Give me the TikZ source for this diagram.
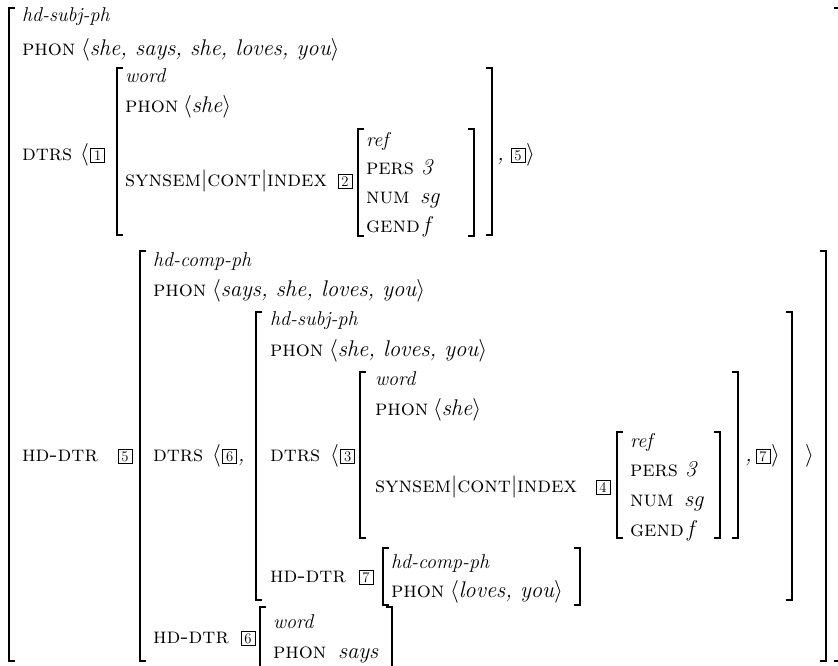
\RequirePackage{fix-cm}
\documentclass[tikz,border=0pt]{standalone}
\usepackage{fontspec}
\usetikzlibrary{calc}
\newcommand\avmattr[1]{\scalebox{0.975}{\fontsize{17}{20}\selectfont\scshape #1}}
\tikzset{
  every node/.style={inner sep=0pt, outer sep=0pt, anchor=base west},
  attr/.style={},
  val/.style={font=\fontsize{17}{20}\selectfont\itshape},
  typ/.style={font=\fontsize{15}{18}\selectfont\itshape},
  tagbox/.style={draw, line width=0.5pt, inner sep=0pt, minimum width=10.5pt, minimum height=10.5pt, font=\fontsize{11}{13}\selectfont},
  brk/.style={line width=1.6pt},
}
\newcommand\avmL[3]{\draw[brk] (#1+6,#2) -- (#1,#2) -- (#1,#3) -- (#1+6,#3);}
\newcommand\avmR[3]{\draw[brk] (#1-6,#2) -- (#1,#2) -- (#1,#3) -- (#1-6,#3);}
\begin{document}
\begin{tikzpicture}[x=0.75pt,y=-0.75pt]
\useasboundingbox (0,0) rectangle (838,665);
% outer matrix
\avmL{9}{8}{661}
\avmR{840}{8}{661}
\node[typ] (t1) at (22,21) {hd-subj-ph};
\node[attr] (a1) at (22,55) {\avmattr{phon}};
\node[val] (v1) at (81,55) {$\langle$she, says, she, loves, you$\rangle$};
\node[attr] (a2) at (22,160) {\avmattr{dtrs}};
\node[val] (l2) at (80,160) {$\langle$};
\node[tagbox] (g1) at ($(l2.base east)+(2,0)$) {1};
% word matrix (top)
\avmL{117}{68}{235}
\avmR{492}{68}{235}
\node[typ] (t2) at (125,82) {word};
\node[attr] (a3) at (125,112) {\avmattr{phon}};
\node[val] (v3) at (183,112) {$\langle$she$\rangle$};
\node[attr] (a4) at (125,186) {\avmattr{synsem$|$cont$|$index}};
\node[tagbox] (g2) at (338,186) {2};
% ref matrix (top)
\avmL{358}{129}{236}
\avmR{474}{129}{236}
\node[typ] (t3) at (366,146) {ref};
\node[attr] (a5) at (366,174) {\avmattr{pers}};
\node[val] (v5) at (421,174) {3};
\node[attr] (a6) at (366,203) {\avmattr{num}};
\node[val] (v6) at (420,203) {sg};
\node[attr] (a7) at (366,232) {\avmattr{gend}};
\node[val] (v7) at (423,232) {f};
\node[val] (c1) at (497,160) {,};
\node[tagbox] (g5) at (511,160) {5};
\node[val] (r1) at ($(g5.base east)+(1,0)$) {$\rangle$};
% HD-DTR row
\node[attr] (a8) at (22,461) {\avmattr{hd-dtr}};
\node[tagbox] (g5b) at (118,461) {5};
% hd-comp-ph matrix
\avmL{140}{251}{661}
\avmR{826}{251}{661}
\node[typ] (t4) at (153,266) {hd-comp-ph};
\node[attr] (a9) at (153,296) {\avmattr{phon}};
\node[val] (v9) at (212,296) {$\langle$says, she, loves, you$\rangle$};
\node[attr] (a10) at (153,461) {\avmattr{dtrs}};
\node[val] (l10) at (212,461) {$\langle$};
\node[tagbox] (g6) at ($(l10.base east)+(2,0)$) {6};
\node[val] (c2) at ($(g6.base east)+(1,0)$) {,};
% hd-subj-ph matrix
\avmL{256}{312}{600}
\avmR{792}{312}{600}
\node[typ] (t5) at (270,325) {hd-subj-ph};
\node[attr] (a11) at (270,356) {\avmattr{phon}};
\node[val] (v11) at (329,356) {$\langle$she, loves, you$\rangle$};
\node[attr] (a12) at (270,461) {\avmattr{dtrs}};
\node[val] (l12) at (330,461) {$\langle$};
\node[tagbox] (g3) at ($(l12.base east)+(2,0)$) {3};
% word matrix (inner)
\avmL{360}{372}{538}
\avmR{738}{372}{538}
\node[typ] (t6) at (375,385) {word};
\node[attr] (a13) at (375,415) {\avmattr{phon}};
\node[val] (v13) at (433,415) {$\langle$she$\rangle$};
\node[attr] (a14) at (375,492) {\avmattr{synsem$|$cont$|$index}};
\node[tagbox] (g4) at (596,492) {4};
% ref matrix (inner)
\avmL{617}{432}{538}
\avmR{720}{432}{538}
\node[typ] (t7) at (630,447) {ref};
\node[attr] (a15) at (630,476) {\avmattr{pers}};
\node[val] (v15) at (685,476) {3};
\node[attr] (a16) at (630,506) {\avmattr{num}};
\node[val] (v16) at (684,506) {sg};
\node[attr] (a17) at (630,536) {\avmattr{gend}};
\node[val] (v17) at (687,536) {f};
\node[val] (c3) at (745,461) {,};
\node[tagbox] (g7) at (756,461) {7};
\node[val] (r3) at ($(g7.base east)+(1,0)$) {$\rangle$};
\node[val] (r4) at (805,461) {$\rangle$};
% HD-DTR 7
\node[attr] (a18) at (270,582) {\avmattr{hd-dtr}};
\node[tagbox] (g7b) at (359,582) {7};
\avmL{383}{548}{605}
\avmR{580}{548}{605}
\node[typ] (t8) at (391,568) {hd-comp-ph};
\node[attr] (a19) at (391,597) {\avmattr{phon}};
\node[val] (v19) at (450,597) {$\langle$loves, you$\rangle$};
% HD-DTR 6
\node[attr] (a20) at (153,643) {\avmattr{hd-dtr}};
\node[tagbox] (g6b) at (241,643) {6};
\avmL{260}{607}{700}
\avmR{392}{607}{700}
\node[typ] (t9) at (273,628) {word};
\node[attr] (a21) at (273,658) {\avmattr{phon}};
\node[val] (v21) at (338,658) {says};
\end{tikzpicture}
\end{document}
